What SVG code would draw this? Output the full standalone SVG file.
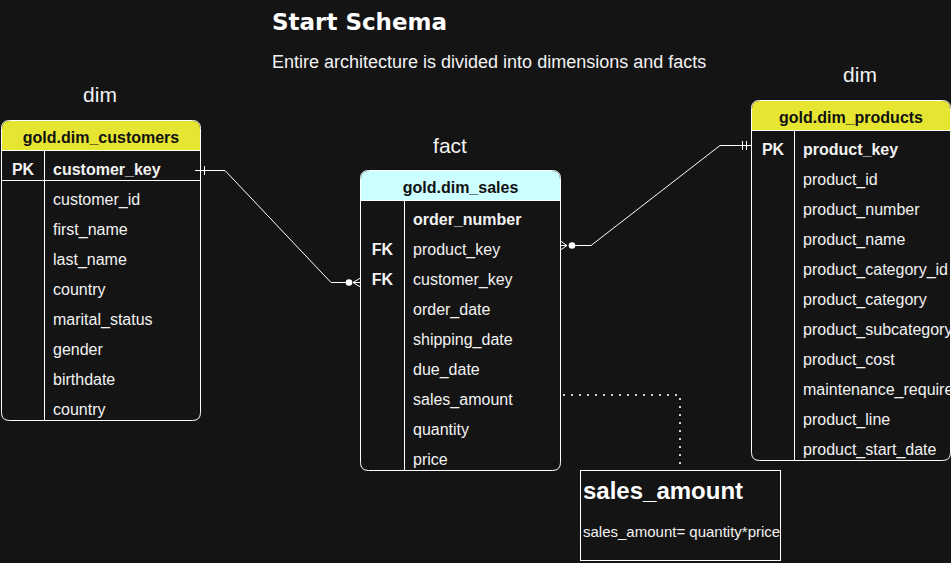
<svg xmlns="http://www.w3.org/2000/svg" width="951" height="563" viewBox="0 0 951 563">
  <defs>
    <style>
      .bg { fill: #141414; }
      .tbl { fill: #141414; stroke: #ffffff; stroke-width: 1; }
      .hdr-y { fill: #e6e632; }
      .hdr-c { fill: #ccffff; }
      .ln { stroke: #ffffff; stroke-width: 1; fill: none; }
      .hdrtxt { font-family: "Liberation Sans", Arial, sans-serif; font-size: 16px; font-weight: bold; fill: #111111; text-anchor: middle; }
      .fld { font-family: "Liberation Sans", Arial, sans-serif; font-size: 16px; fill: #f2f2f2; }
      .key { font-weight: bold; }
      .kl { font-family: "Liberation Sans", Arial, sans-serif; font-size: 16px; font-weight: bold; fill: #f2f2f2; text-anchor: middle; }
      .lbl { font-family: "Liberation Sans", Arial, sans-serif; font-size: 21px; fill: #f2f2f2; text-anchor: middle; }
      .title { font-family: "DejaVu Sans", Verdana, sans-serif; font-size: 23px; font-weight: bold; fill: #ffffff; }
      .sub { font-family: "Liberation Sans", Arial, sans-serif; font-size: 18px; fill: #f2f2f2; }
      .conn { stroke: #ffffff; stroke-width: 1; fill: none; }
      .dot { stroke: #d0d0d0; stroke-width: 2; fill: none; stroke-dasharray: 2 6; }
    </style>
  </defs>
  <rect class="bg" x="0" y="0" width="951" height="563"/>

  <g id="title">
    <text class="title" x="272" y="30">Start Schema</text>
    <text class="sub" x="272" y="68">Entire architecture is divided into dimensions and facts</text>
  </g>

  <g id="labels">
    <text class="lbl" x="100" y="102">dim</text>
    <text class="lbl" x="450" y="153">fact</text>
    <text class="lbl" x="860" y="82">dim</text>
  </g>

  <g id="dim_customers">
    <path class="tbl" d="M1.5,128.5 Q1.5,120.5 9.5,120.5 L192.5,120.5 Q200.5,120.5 200.5,128.5 L200.5,412.5 Q200.5,420.5 192.5,420.5 L9.5,420.5 Q1.5,420.5 1.5,412.5 Z"/>
    <path class="hdr-y" d="M2,128.5 Q2,121 9.5,121 L192.5,121 Q200,121 200,128.5 L200,150 L2,150 Z"/>
    <line class="ln" x1="1.5" y1="150.5" x2="200.5" y2="150.5"/>
    <line class="ln" x1="1.5" y1="180.5" x2="200.5" y2="180.5"/>
    <line class="ln" x1="44.5" y1="150.5" x2="44.5" y2="420.5"/>
    <text class="hdrtxt" x="101" y="143">gold.dim_customers</text>
    <text class="kl" x="23" y="175">PK</text>
    <text class="fld key" x="53" y="175">customer_key</text>
    <text class="fld" x="53" y="205">customer_id</text>
    <text class="fld" x="53" y="235">first_name</text>
    <text class="fld" x="53" y="265">last_name</text>
    <text class="fld" x="53" y="295">country</text>
    <text class="fld" x="53" y="325">marital_status</text>
    <text class="fld" x="53" y="355">gender</text>
    <text class="fld" x="53" y="385">birthdate</text>
    <text class="fld" x="53" y="415">country</text>
  </g>

  <g id="dim_sales">
    <path class="tbl" d="M360.5,178.5 Q360.5,170.5 368.5,170.5 L552.5,170.5 Q560.5,170.5 560.5,178.5 L560.5,462.5 Q560.5,470.5 552.5,470.5 L368.5,470.5 Q360.5,470.5 360.5,462.5 Z"/>
    <path class="hdr-c" d="M361,178.5 Q361,171 368.5,171 L552.5,171 Q560,171 560,178.5 L560,200 L361,200 Z"/>
    <line class="ln" x1="360.5" y1="200.5" x2="560.5" y2="200.5"/>
    <line class="ln" x1="404.5" y1="200.5" x2="404.5" y2="470.5"/>
    <text class="hdrtxt" x="460.5" y="193">gold.dim_sales</text>
    <text class="fld key" x="413" y="225">order_number</text>
    <text class="kl" x="382.5" y="255">FK</text>
    <text class="fld" x="413" y="255">product_key</text>
    <text class="kl" x="382.5" y="285">FK</text>
    <text class="fld" x="413" y="285">customer_key</text>
    <text class="fld" x="413" y="315">order_date</text>
    <text class="fld" x="413" y="345">shipping_date</text>
    <text class="fld" x="413" y="375">due_date</text>
    <text class="fld" x="413" y="405">sales_amount</text>
    <text class="fld" x="413" y="435">quantity</text>
    <text class="fld" x="413" y="465">price</text>
  </g>

  <g id="dim_products">
    <path class="tbl" d="M751.5,108.5 Q751.5,100.5 759.5,100.5 L942.5,100.5 Q950.5,100.5 950.5,108.5 L950.5,452.5 Q950.5,460.5 942.5,460.5 L759.5,460.5 Q751.5,460.5 751.5,452.5 Z"/>
    <path class="hdr-y" d="M752,108.5 Q752,101 759.5,101 L942.5,101 Q950,101 950,108.5 L950,130 L752,130 Z"/>
    <line class="ln" x1="751.5" y1="130.5" x2="950.5" y2="130.5"/>
    <line class="ln" x1="794.5" y1="130.5" x2="794.5" y2="460.5"/>
    <text class="hdrtxt" x="851" y="123">gold.dim_products</text>
    <text class="kl" x="773" y="155">PK</text>
    <text class="fld key" x="803" y="155">product_key</text>
    <text class="fld" x="803" y="185">product_id</text>
    <text class="fld" x="803" y="215">product_number</text>
    <text class="fld" x="803" y="245">product_name</text>
    <text class="fld" x="803" y="275">product_category_id</text>
    <text class="fld" x="803" y="305">product_category</text>
    <text class="fld" x="803" y="335">product_subcategory</text>
    <text class="fld" x="803" y="365">product_cost</text>
    <text class="fld" x="803" y="395">maintenance_required</text>
    <text class="fld" x="803" y="425">product_line</text>
    <text class="fld" x="803" y="455">product_start_date</text>
  </g>

  <g id="note_sales_amount">
    <rect x="580.5" y="470.5" width="200" height="90" fill="#141414" stroke="#ffffff" stroke-width="1"/>
    <text x="583" y="499" font-family="Liberation Sans, Arial, sans-serif" font-size="24" font-weight="bold" fill="#ffffff">sales_amount</text>
    <text x="583" y="537" font-family="Liberation Sans, Arial, sans-serif" font-size="15" fill="#f2f2f2">sales_amount= quantity*price</text>
  </g>

  <g id="connectors">
    <!-- customers.customer_key -> sales.customer_key -->
    <polyline class="conn" points="195,170.5 225,170.5 331,282.5 346,282.5"/>
    <line class="conn" x1="200.5" y1="166" x2="200.5" y2="175"/>
    <line class="conn" x1="204.5" y1="166" x2="204.5" y2="175"/>
    <circle cx="349" cy="282.5" r="3.3" fill="#ffffff"/>
    <polyline class="conn" points="360.5,278 353,282.5 360.5,287"/>
    <line class="conn" x1="353" y1="282.5" x2="360.5" y2="282.5"/>
    <!-- sales.product_key -> products.product_key -->
    <polyline class="conn" points="575,245.5 591,245.5 720,145.5 751,145.5"/>
    <line class="conn" x1="742.5" y1="141" x2="742.5" y2="150"/>
    <line class="conn" x1="746.5" y1="141" x2="746.5" y2="150"/>
    <circle cx="572" cy="245.5" r="3.3" fill="#ffffff"/>
    <polyline class="conn" points="560.5,241 567,245.5 560.5,250"/>
    <line class="conn" x1="560.5" y1="245.5" x2="567" y2="245.5"/>
    <!-- dotted note link -->
    <polyline class="dot" points="563,395 680,395 680,470"/>
  </g>
</svg>
